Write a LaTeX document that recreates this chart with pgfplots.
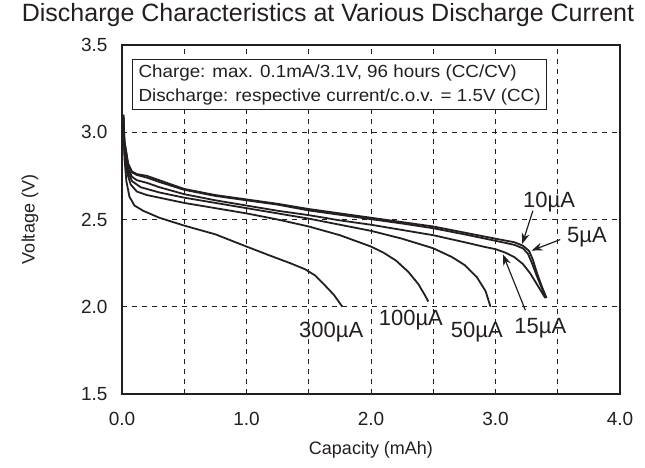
\documentclass[border=0pt]{standalone}
\usepackage{pgfplots}
\pgfplotsset{compat=1.18}
\usepackage{fontspec}
\setmainfont{Liberation Sans}
\newfontfamily\boxfont[FakeStretch=1.075]{Liberation Sans}
\usetikzlibrary{arrows.meta}
\definecolor{ink}{RGB}{35,31,32}

\begin{document}
\begin{tikzpicture}[curve/.style={ink, solid, line width=1.8pt, mark=none}]
\begin{axis}[
  scale only axis, width=498pt, height=349pt,
  xmin=0, xmax=4, ymin=1.5, ymax=3.5,
  xtick={0,1,2,3,4}, minor xtick={0.5,1.5,2.5,3.5},
  ytick={1.5,2.0,2.5,3.0,3.5},
  grid=both,
  major grid style={dash pattern=on 5pt off 5pt, line width=0.8pt, ink},
  minor grid style={dash pattern=on 5pt off 5pt, line width=0.8pt, ink},
  major tick length=0pt, minor tick length=0pt,
  axis line style={line width=2.2pt, ink},
  tick label style={font=\fontsize{19}{22}\selectfont, text=ink},
  /pgf/number format/.cd, fixed, fixed zerofill, precision=1, assume math mode=true, /pgfplots/.cd,
  xticklabel style={yshift=-15pt},
  yticklabel style={xshift=-11pt},
  xlabel={Capacity (mAh)}, ylabel={Voltage (V)},
  label style={font=\fontsize{18}{21}\selectfont, text=ink},
  xlabel style={at={(axis description cs:0.5,-0.16)}, anchor=center},
  ylabel style={at={(axis description cs:-0.185,0.5)}, anchor=center},
  clip=false,
]
% 10 uA
\addplot[curve] coordinates {(0.01,3.10) (0.02,2.95) (0.05,2.82) (0.08,2.775) (0.12,2.76) (0.2,2.75) (0.3,2.725) (0.5,2.675) (0.75,2.64) (1.0,2.615) (1.25,2.59) (1.5,2.56) (1.75,2.535) (2.0,2.51) (2.25,2.485) (2.5,2.46) (2.75,2.425) (3.0,2.39) (3.15,2.37) (3.22,2.35) (3.27,2.32) (3.30,2.27) (3.33,2.20) (3.37,2.12) (3.41,2.05)};
% 5 uA
\addplot[curve] coordinates {(0.01,3.10) (0.02,2.94) (0.05,2.81) (0.08,2.77) (0.12,2.755) (0.2,2.74) (0.3,2.715) (0.5,2.67) (0.75,2.635) (1.0,2.61) (1.25,2.585) (1.5,2.552) (1.75,2.527) (2.0,2.502) (2.25,2.477) (2.5,2.45) (2.75,2.415) (3.0,2.378) (3.15,2.355) (3.22,2.335) (3.26,2.305) (3.29,2.255) (3.33,2.18) (3.37,2.11) (3.405,2.05)};
% 15 uA
\addplot[curve] coordinates {(0.01,3.10) (0.02,2.92) (0.05,2.79) (0.08,2.745) (0.12,2.725) (0.2,2.71) (0.3,2.685) (0.5,2.645) (0.75,2.61) (1.0,2.58) (1.25,2.55) (1.5,2.525) (1.75,2.495) (2.0,2.47) (2.25,2.44) (2.5,2.41) (2.75,2.37) (2.9,2.345) (3.0,2.33) (3.08,2.31) (3.15,2.285) (3.22,2.245) (3.28,2.19) (3.34,2.12) (3.40,2.05)};
% 50 uA
\addplot[curve] coordinates {(0.01,3.10) (0.02,2.90) (0.05,2.77) (0.08,2.72) (0.15,2.685) (0.3,2.655) (0.5,2.625) (0.75,2.595) (1.0,2.565) (1.25,2.535) (1.5,2.505) (1.75,2.47) (2.0,2.435) (2.25,2.39) (2.5,2.335) (2.65,2.285) (2.75,2.24) (2.85,2.17) (2.92,2.09) (2.96,2.0)};
% 100 uA
\addplot[curve] coordinates {(0.01,3.10) (0.02,2.88) (0.04,2.77) (0.07,2.70) (0.12,2.66) (0.2,2.64) (0.3,2.625) (0.5,2.595) (0.75,2.565) (1.0,2.535) (1.25,2.50) (1.5,2.46) (1.75,2.41) (2.0,2.345) (2.1,2.31) (2.2,2.265) (2.3,2.20) (2.38,2.13) (2.43,2.07) (2.46,2.03)};
% 300 uA
\addplot[curve] coordinates {(0.01,3.10) (0.02,2.85) (0.035,2.72) (0.06,2.63) (0.1,2.58) (0.17,2.55) (0.3,2.51) (0.5,2.465) (0.75,2.415) (1.0,2.345) (1.2,2.29) (1.35,2.25) (1.47,2.215) (1.55,2.18) (1.62,2.13) (1.7,2.07) (1.77,2.0)};

\node[draw=ink, line width=1.2pt, fill=white, anchor=north west, align=left, inner xsep=6pt, inner ysep=5pt, text=ink, font=\boxfont\fontsize{17.5}{24}\selectfont] at (axis cs:0.08,3.42) {Charge: max. 0.1mA/3.1V, 96 hours (CC/CV)\\Discharge: respective current/c.o.v. = 1.5V (CC)};

\draw[ink, line width=1.2pt, -{Stealth[length=11pt,width=8pt]}] (axis cs:3.30,2.55) -- (axis cs:3.215,2.36);
\draw[ink, line width=1.2pt, -{Stealth[length=11pt,width=8pt]}] (axis cs:3.52,2.385) -- (axis cs:3.29,2.322);
\draw[ink, line width=1.2pt, -{Stealth[length=11pt,width=8pt]}] (axis cs:3.24,1.98) -- (axis cs:3.06,2.30);

\begin{scope}[every node/.style={text=ink, anchor=base, inner sep=0pt, font=\fontsize{22}{24}\selectfont}]
\node at (axis cs:3.43,2.566) {10µA};
\node at (axis cs:3.735,2.371) {5µA};
\node at (axis cs:3.36,1.849) {15µA};
\node at (axis cs:2.85,1.821) {50µA};
\node at (axis cs:2.32,1.895) {100µA};
\node at (axis cs:1.68,1.821) {300µA};
\end{scope}

\node[text=ink, font=\fontsize{25}{28}\selectfont] at (axis description cs:0.4137,1.086) {Discharge Characteristics at Various Discharge Current};
\end{axis}
\pgfresetboundingbox
\path[use as bounding box] (current axis.south west) ++(-122pt,-74pt) rectangle ++(645pt,468pt);
\end{tikzpicture}
\end{document}
